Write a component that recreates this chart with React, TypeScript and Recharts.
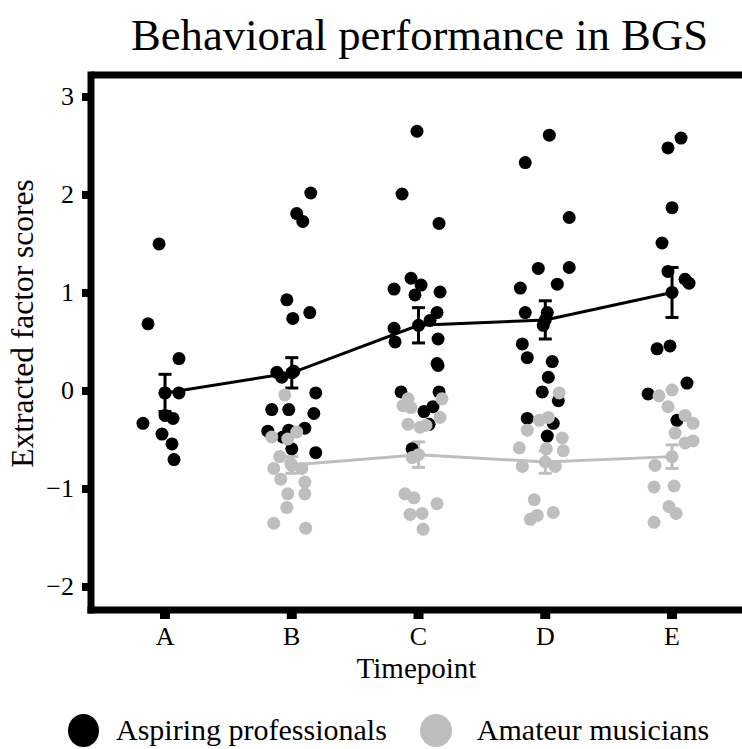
import { ErrorBar, Label, Legend, ReferenceLine, Scatter, ScatterChart, XAxis, YAxis } from 'recharts';

const timepoints = ['A', 'B', 'C', 'D', 'E'];
const yTicks = [-2, -1, 0, 1, 2, 3];

// [jittered timepoint position, factor score]
const proPoints = [
  [0.953, 1.5], [0.866, 0.685], [1.11, 0.33], [1.0, -0.02], [1.11, -0.02], [1.0, -0.25],
  [1.063, -0.28], [0.826, -0.33], [0.976, -0.44], [1.055, -0.54], [1.071, -0.7],
  [2.15, 2.02], [2.039, 1.81], [2.087, 1.73], [1.961, 0.93], [2.142, 0.8], [2.008, 0.74],
  [1.882, 0.19], [1.921, 0.14], [2.016, 0.2], [2.189, -0.02], [1.842, -0.19], [1.976, -0.19],
  [2.174, -0.23], [2.103, -0.38], [1.811, -0.41], [1.976, -0.4], [1.929, -0.47], [2.0, -0.59],
  [2.189, -0.63],
  [2.988, 2.65], [2.87, 2.01], [3.162, 1.71], [2.941, 1.15], [3.02, 1.08], [2.807, 1.04],
  [3.17, 1.01], [2.972, 0.98], [3.146, 0.8], [3.091, 0.72], [2.807, 0.64], [2.815, 0.5],
  [3.154, 0.53], [3.146, 0.28], [3.154, 0.26], [2.862, -0.01], [3.162, -0.01], [3.114, -0.16],
  [3.043, -0.21], [3.083, -0.34], [2.949, -0.59],
  [4.032, 2.61], [3.842, 2.33], [4.189, 1.77], [3.945, 1.25], [4.189, 1.26], [3.803, 1.05],
  [4.095, 1.09], [3.842, 0.8], [4.016, 0.8], [3.984, 0.67], [3.819, 0.48], [3.858, 0.34],
  [4.055, 0.3], [4.024, 0.14], [3.976, -0.01], [4.103, -0.1], [3.858, -0.28], [4.063, -0.33],
  [4.016, -0.46],
  [5.071, 2.58], [4.968, 2.48], [5.0, 1.87], [4.921, 1.51], [4.968, 1.22], [5.103, 1.14],
  [5.134, 1.1], [4.882, 0.43], [4.984, 0.46], [5.118, 0.08], [4.811, -0.03], [5.039, -0.3],
];

const amaPoints = [
  [1.945, -0.04], [2.039, -0.42], [1.842, -0.47], [1.968, -0.49], [1.905, -0.67], [1.992, -0.74],
  [1.858, -0.79], [2.079, -0.79], [2.0, -0.76], [1.913, -0.9], [2.103, -0.93], [1.968, -1.05],
  [2.103, -1.05], [1.961, -1.19], [1.858, -1.35], [2.11, -1.4],
  [2.917, -0.08], [2.878, -0.15], [2.941, -0.17], [3.185, -0.08], [2.917, -0.34], [3.012, -0.37],
  [3.059, -0.35], [3.17, -0.27], [2.949, -0.68], [2.893, -1.05], [2.964, -1.09], [3.146, -1.15],
  [2.933, -1.26], [3.028, -1.25], [3.036, -1.41],
  [4.11, -0.02], [4.024, -0.27], [3.953, -0.3], [3.858, -0.4], [4.134, -0.48], [3.795, -0.58],
  [4.008, -0.59], [4.142, -0.61], [3.819, -0.77], [4.079, -0.77], [3.913, -1.11], [3.937, -1.27],
  [3.882, -1.31], [4.063, -1.24],
  [4.897, -0.05], [5.0, 0.01], [4.968, -0.16], [5.103, -0.25], [5.166, -0.33], [5.024, -0.43],
  [5.103, -0.53], [5.166, -0.51], [4.866, -0.76], [4.858, -0.98], [5.016, -0.97], [4.976, -1.18],
  [5.032, -1.25], [4.858, -1.34],
];

const proMeans = [-0.02, 0.185, 0.67, 0.725, 1.005];
const proErr = [0.19, 0.155, 0.18, 0.195, 0.255];
const amaMeans = [null, -0.755, -0.65, -0.725, -0.67];
const amaErr = [null, 0.085, 0.13, 0.115, 0.12];

const BLACK = '#000000';
const GREY = '#bebebe';
const FONT = '"Liberation Serif", "Times New Roman", serif';

const toXY = (pts: number[][]) => pts.map(([x, y]) => ({ x, y }));
const toMeans = (m: (number | null)[], e: (number | null)[]) =>
  m.map((y, i) => ({ x: i + 1, y, err: e[i] })).filter((d) => d.y !== null);

const dot = (color: string) => (props: any) => <circle cx={props.cx} cy={props.cy} r={6.5} fill={color} />;

const fmtY = (v: number) => (v < 0 ? `\u2212${-v}` : `${v}`);

// thick stub ticks like the ggplot theme
const XTick = ({ payload, y }: any) => {
  const c = payload.coordinate;
  return (
    <g>
      <rect x={c - 5} y={y - 16} width={10} height={9} fill={BLACK} />
      <text x={c} y={y + 19} textAnchor="middle" fontSize={26} fontFamily={FONT} fill={BLACK}>
        {timepoints[payload.value - 1]}
      </text>
    </g>
  );
};

const YTick = ({ payload }: any) => {
  const c = payload.coordinate;
  return (
    <g>
      <rect x={82} y={c - 4} width={9} height={8} fill={BLACK} />
      <text x={74} y={c} textAnchor="end" dominantBaseline="central" fontSize={26} fontFamily={FONT} fill={BLACK}>
        {fmtY(payload.value)}
      </text>
    </g>
  );
};

export default function App() {
  return (
    <div style={{ position: 'absolute', left: 0, top: 0, width: 742, height: 749, background: '#fff', overflow: 'hidden', fontFamily: FONT }}>
      <div style={{ position: 'absolute', left: 94, width: 651, top: 13, fontSize: 44.7, lineHeight: '44px', textAlign: 'center', color: '#000' }}>
        Behavioral performance in BGS
      </div>
      <ScatterChart width={742} height={749} margin={{ top: 75, right: 0, bottom: 0, left: 0 }}>
        <XAxis
          type="number"
          dataKey="x"
          domain={[0.416, 5.552]}
          allowDataOverflow
          ticks={[1, 2, 3, 4, 5]}
          height={89}
          axisLine={{ stroke: BLACK, strokeWidth: 7, strokeLinecap: 'square' }}
          tickLine={false}
          tickSize={10}
          tickMargin={6}
          tick={<XTick />}
        >
          <Label
            content={({ viewBox }: any) => (
              <text x={viewBox.x + viewBox.width / 2} y={678} textAnchor="middle" fontSize={29} fontFamily={FONT} fill={BLACK}>
                Timepoint
              </text>
            )}
          />
        </XAxis>
        <YAxis
          type="number"
          dataKey="y"
          domain={[-2.235, 3.224]}
          allowDataOverflow
          ticks={yTicks}
          width={91}
          axisLine={{ stroke: BLACK, strokeWidth: 7, strokeLinecap: 'square' }}
          tickLine={false}
          tick={<YTick />}
        >
          <Label
            content={({ viewBox }: any) => {
              const cx = 22;
              const cy = viewBox.y + viewBox.height / 2 - 19;
              return (
                <text x={cx} y={cy} transform={`rotate(-90, ${cx}, ${cy})`} textAnchor="middle" dominantBaseline="central" fontSize={31.5} fontFamily={FONT} fill={BLACK}>
                  Extracted factor scores
                </text>
              );
            }}
          />
        </YAxis>
        <ReferenceLine y={3.224} stroke={BLACK} strokeWidth={7} />
        <Scatter name="Aspiring professionals" data={toXY(proPoints)} shape={dot(BLACK)} isAnimationActive={false} />
        <Scatter name="Amateur musicians" data={toXY(amaPoints)} shape={dot(GREY)} isAnimationActive={false} />
        <Scatter data={toMeans(amaMeans, amaErr)} shape={dot(GREY)} line={{ stroke: GREY, strokeWidth: 3 }} isAnimationActive={false} legendType="none">
          <ErrorBar dataKey="err" direction="y" width={6.5} stroke={GREY} strokeWidth={3} isAnimationActive={false} />
        </Scatter>
        <Scatter data={toMeans(proMeans, proErr)} shape={dot(BLACK)} line={{ stroke: BLACK, strokeWidth: 3 }} isAnimationActive={false} legendType="none">
          <ErrorBar dataKey="err" direction="y" width={6.5} stroke={BLACK} strokeWidth={3} isAnimationActive={false} />
        </Scatter>
        <Legend
          verticalAlign="bottom"
          align="left"
          content={() => (
            <div style={{ height: 50, display: 'flex', alignItems: 'center', paddingTop: 12, boxSizing: 'border-box', fontFamily: FONT, fontSize: 30, color: BLACK }}>
              <div style={{ width: 31, height: 33, borderRadius: '50%', background: BLACK, marginLeft: 68 }} />
              <span style={{ marginLeft: 17 }}>Aspiring professionals</span>
              <div style={{ width: 32, height: 33, borderRadius: '50%', background: GREY, marginLeft: 33 }} />
              <span style={{ marginLeft: 25 }}>Amateur musicians</span>
            </div>
          )}
        />
      </ScatterChart>
    </div>
  );
}
